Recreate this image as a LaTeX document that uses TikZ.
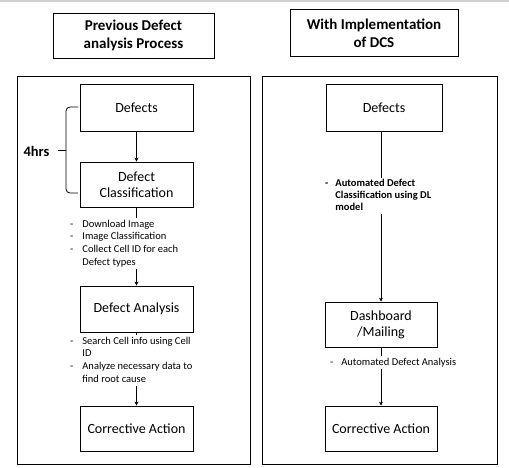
\documentclass[tikz,border=0pt]{standalone}
\usepackage{fontspec}
\setmainfont{Carlito}
\usetikzlibrary{arrows.meta}
\begin{document}
\begin{tikzpicture}[x=1pt,y=-1pt,
  stepbox/.style={draw,line width=0.8pt,align=center,inner sep=0pt,font=\fontsize{14}{16}\selectfont},
  titlebox/.style={draw,line width=0.8pt,align=center,inner sep=0pt,font=\bfseries\fontsize{15}{18}\selectfont},
  frame/.style={draw,line width=0.8pt},
  note/.style={inner sep=0pt,anchor=north west,align=left,font=\fontsize{10.5}{12.7}\selectfont},
  conn/.style={line width=0.7pt},
  arr/.style={line width=0.7pt,-{Stealth[length=4pt,width=4pt]}}
]
\useasboundingbox (0,0) rectangle (509,468);
\draw[gray!35,line width=1.2pt] (0,1) -- (509,1);
% title boxes
\node[titlebox,minimum width=161pt,minimum height=45pt] (t1) at (133.5,35.5) {Previous Defect\\analysis Process};
\node[titlebox,minimum width=168pt,minimum height=47pt] (t2) at (374,33) {With Implementation\\of DCS};
% frames
\draw[frame] (17,76) rectangle (250,464);
\draw[frame] (262,76) rectangle (497,464);
% left column
\node[stepbox,minimum width=113pt,minimum height=47pt] (d1) at (136.5,107.5) {Defects};
\node[stepbox,minimum width=113pt,minimum height=45pt] (c1) at (136.5,184.5) {Defect\\Classification};
\node[stepbox,minimum width=113pt,minimum height=46pt] (a1) at (136.5,309) {Defect Analysis};
\node[stepbox,minimum width=113pt,minimum height=45pt] (r1) at (136.5,428.5) {Corrective Action};
\node[note] (n1) at (70,218) {\begin{tabular}{@{}l@{\hspace{9pt}}l@{}}-&Download Image\\-&Image Classification\\-&Collect Cell ID for each\\&Defect types\end{tabular}};
\node[note] (n2) at (70,335) {\begin{tabular}{@{}l@{\hspace{9pt}}l@{}}-&Search Cell info using Cell\\&ID\\-&Analyze necessary data to\\&find root cause\end{tabular}};
\draw[arr] (d1) -- (c1);
\draw[conn] (c1.south) -- (c1.south |- n1.north);
\draw[arr] (a1.north |- n1.south) -- (a1.north);
\draw[conn] (a1.south) -- (a1.south |- n2.north);
\draw[arr] (r1.north |- n2.south) -- (r1.north);
% brace
\draw[line width=0.8pt,rounded corners=4pt] (78,107) -- (66,107) -- (66,193) -- (78,193);
\draw[line width=0.8pt] (66,150) -- (58,150);
\node[font=\bfseries\fontsize{14.5}{17}\selectfont,inner sep=0pt] (h) at (36.5,151) {4hrs};
% right column
\node[stepbox,minimum width=116pt,minimum height=47pt] (d2) at (384,107.5) {Defects};
\node[stepbox,minimum width=112pt,minimum height=45pt] (m2) at (381,324.5) {Dashboard\\/Mailing};
\node[stepbox,minimum width=112pt,minimum height=45pt] (r2) at (381,428.5) {Corrective Action};
\node[note,font=\bfseries\fontsize{10.5}{12}\selectfont] (n3) at (325,178) {\begin{tabular}{@{}l@{\hspace{7pt}}l@{}}-&Automated Defect\\&Classification using DL\\&model\end{tabular}};
\node[note] (n4) at (330,356) {\begin{tabular}{@{}l@{\hspace{8pt}}l@{}}-&Automated Defect Analysis\end{tabular}};
\coordinate (x2) at (381,0);
\draw[conn] (x2 |- d2.south) -- (x2 |- n3.north);
\draw[arr] (m2.north |- n3.south) -- (m2.north);
\draw[conn] (m2.south) -- (m2.south |- n4.north);
\draw[arr] (r2.north |- n4.south) -- (r2.north);
\end{tikzpicture}
\end{document}
